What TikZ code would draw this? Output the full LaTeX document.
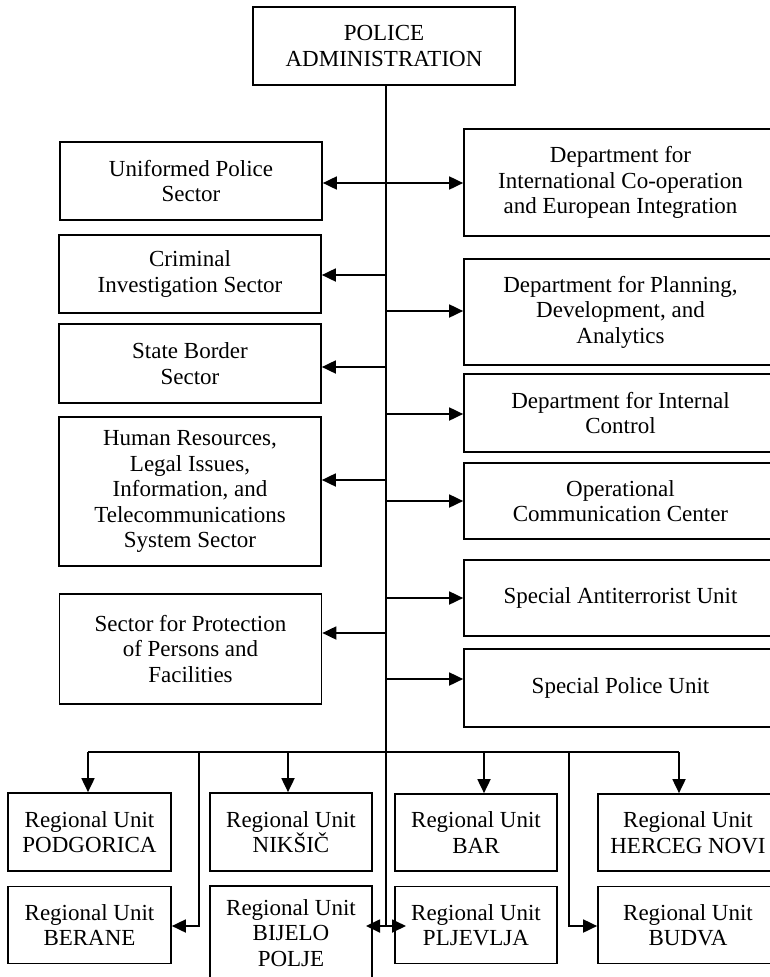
\documentclass[tikz,border=0pt]{standalone}
\usepackage{fontspec}
\setmainfont{Liberation Serif}
\usetikzlibrary{arrows.meta}
\begin{document}
\begin{tikzpicture}[x=1pt,y=-1pt,
  box/.style={draw, line width=1.7pt, inner sep=0pt, align=center,
    font=\fontsize{23}{25.5}\selectfont},
  conn/.style={line width=1.8pt},
  >={Triangle[length=14pt,width=13pt]}]
\path[use as bounding box] (0,0) rectangle (770,977);
\clip (0,0) rectangle (770,977);

% top
\node[box, minimum width=262pt, minimum height=78pt] (top) at (384,46) {POLICE\\ADMINISTRATION};

% left column
\node[box, minimum width=262pt, minimum height=78pt] (unif) at (191,181) {Uniformed Police\\Sector};
\node[box, minimum width=262pt, minimum height=78pt] (crim) at (190,274) {Criminal\\Investigation Sector};
\node[box, minimum width=262pt, minimum height=79pt] (state) at (190,363.5) {State Border\\Sector};
\node[box, minimum width=262pt, minimum height=149pt] (hr) at (190,491.5) {Human Resources,\\Legal Issues,\\Information, and\\Telecommunications\\System Sector};
\node[box, minimum width=262pt, minimum height=110pt] (prot) at (190.5,649) {Sector for Protection\\of Persons and\\Facilities};

% right column
\node[box, minimum width=313pt, minimum height=107pt] (intl) at (620.5,182.5) {Department for\\International Co-operation\\and European Integration};
\node[box, minimum width=313pt, minimum height=106pt] (plan) at (620.5,312) {Department for Planning,\\Development, and\\Analytics};
\node[box, minimum width=313pt, minimum height=78pt] (intc) at (620.5,413) {Department for Internal\\Control};
\node[box, minimum width=313pt, minimum height=76pt] (oper) at (620.5,501) {Operational\\Communication Center};
\node[box, minimum width=313pt, minimum height=76pt] (anti) at (620.5,598) {Special Antiterrorist Unit};
\node[box, minimum width=313pt, minimum height=78pt] (spu) at (620.5,688) {Special Police Unit};

% regional units
\node[box, minimum width=163pt, minimum height=78pt] (podg) at (89.5,832) {Regional Unit\\PODGORICA};
\node[box, minimum width=163pt, minimum height=77pt] (ber) at (89.5,925) {Regional Unit\\BERANE};
\node[box, minimum width=162pt, minimum height=78pt] (nik) at (291,832) {Regional Unit\\NIKŠIČ};
\node[box, minimum width=162pt, minimum height=94pt] (bij) at (291,933) {Regional Unit\\BIJELO\\POLJE};
\node[box, minimum width=162pt, minimum height=77pt] (bar) at (476,832.5) {Regional Unit\\BAR};
\node[box, minimum width=162pt, minimum height=77pt] (plj) at (476,925) {Regional Unit\\PLJEVLJA};
\node[box, minimum width=180pt, minimum height=77pt] (hn) at (688,832.5) {Regional Unit\\HERCEG NOVI};
\node[box, minimum width=180pt, minimum height=77pt] (bud) at (688,925) {Regional Unit\\BUDVA};

% trunk coordinates
\coordinate (tb) at (386,926);
\coordinate (tl) at (366,926);
\coordinate (tr) at (406,926);
\coordinate (t0) at (386,183);
\coordinate (t1) at (386,275);
\coordinate (t2) at (386,311);
\coordinate (t3) at (386,367);
\coordinate (t4) at (386,414);
\coordinate (t5) at (386,480);
\coordinate (t6) at (386,501);
\coordinate (t7) at (386,598);
\coordinate (t8) at (386,633);
\coordinate (t9) at (386,679);
% bus coordinates
\coordinate (b1) at (88,752);
\coordinate (b2) at (199,752);
\coordinate (b3) at (288,752);
\coordinate (b4) at (484,752);
\coordinate (b5) at (569,752);
\coordinate (b6) at (679,752);

\draw[conn] (tb |- top.south) -- (tb);
\draw[conn,<->] (unif.east |- t0) -- (intl.west |- t0);
\draw[conn,->] (t1) -- (crim.east |- t1);
\draw[conn,->] (t2) -- (plan.west |- t2);
\draw[conn,->] (t3) -- (state.east |- t3);
\draw[conn,->] (t4) -- (intc.west |- t4);
\draw[conn,->] (t5) -- (hr.east |- t5);
\draw[conn,->] (t6) -- (oper.west |- t6);
\draw[conn,->] (t7) -- (anti.west |- t7);
\draw[conn,->] (t8) -- (prot.east |- t8);
\draw[conn,->] (t9) -- (spu.west |- t9);

\draw[conn] (b1) -- (b6);
\draw[conn,->] (b1) -- (b1 |- podg.north);
\draw[conn,->] (b3) -- (b3 |- nik.north);
\draw[conn,->] (b4) -- (b4 |- bar.north);
\draw[conn,->] (b6) -- (b6 |- hn.north);
\draw[conn,->] (b2) |- (ber.east |- tb);
\draw[conn,->] (b5) |- (bud.west |- tb);
\draw[conn,<->] (tl) -- (tr);
\end{tikzpicture}
\end{document}
